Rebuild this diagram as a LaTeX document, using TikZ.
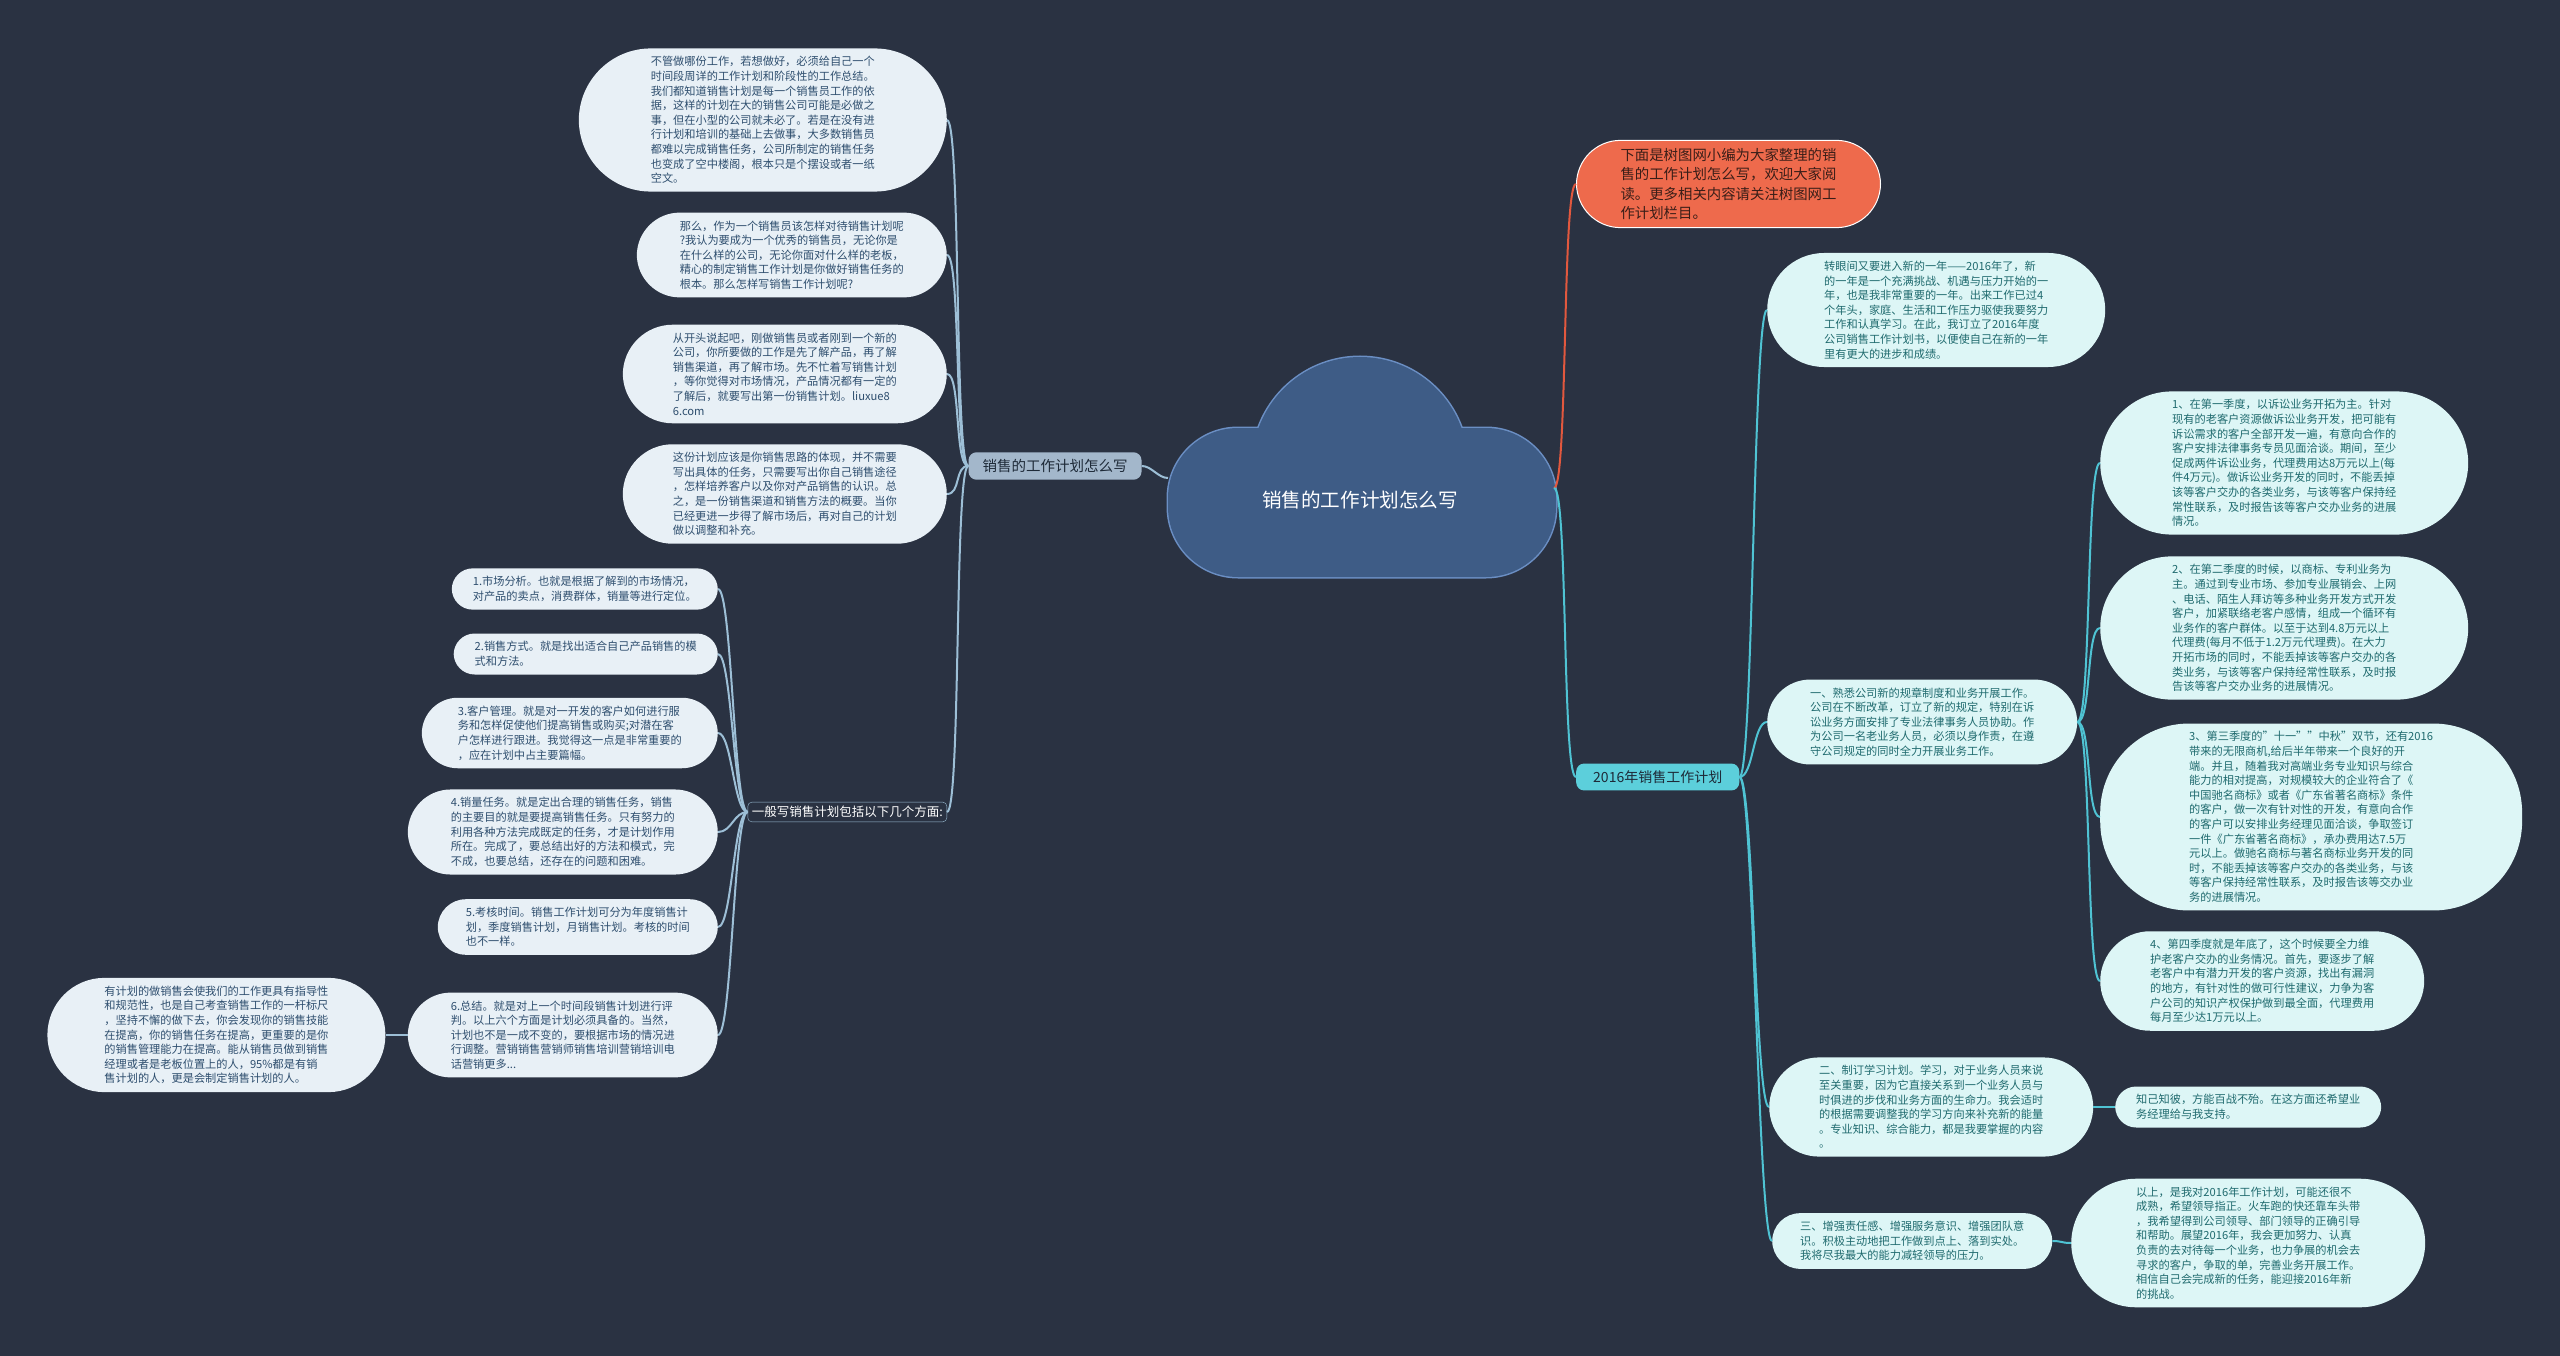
\documentclass[tikz,border=0pt]{standalone}
\usepackage{fontspec}
\setmainfont{Noto Sans CJK SC}
\usepackage{tikz}
\usetikzlibrary{positioning}
\usepackage{xcolor}
\definecolor{bgdark}{HTML}{2A3242}
\definecolor{cloudfill}{HTML}{3E5C86}
\definecolor{cloudline}{HTML}{6B8FC4}
\definecolor{lineL}{HTML}{9DBFD6}
\definecolor{lineR}{HTML}{4FC3D3}
\definecolor{leafLfill}{HTML}{E8F0F6}
\definecolor{leafLtext}{HTML}{2E4E6E}
\definecolor{leafRfill}{HTML}{DDF6F6}
\definecolor{leafRtext}{HTML}{1F6A6E}
\definecolor{branchfill}{HTML}{A3B7CB}
\definecolor{branchtext}{HTML}{1E2A38}
\definecolor{yearfill}{HTML}{5CCFDB}
\definecolor{orangefill}{HTML}{EE6A4C}
\definecolor{orangeline}{HTML}{E2583E}
\definecolor{orangetext}{HTML}{3A1E18}

\begin{document}
\begin{tikzpicture}[x=1pt,y=-1pt,
  leafL/.style={rectangle,rounded corners=#1,inner xsep=#1,inner ysep=8pt,fill=leafLfill,text=leafLtext,align=left,font=\fontsize{11.2}{14.6}\selectfont},
  leafR/.style={leafL=#1,fill=leafRfill,text=leafRtext},
  linkL/.style={draw=lineL,line width=2pt},
  linkR/.style={draw=lineR,line width=2pt}]
\fill[bgdark] (0,0) rectangle (2560,1356);
% cloud in the middle
\path[draw=cloudline,line width=3pt,rounded corners=70pt] (1168,428) rectangle (1556,577);
\draw[cloudline,line width=3pt] (1360,465) circle[radius=108] (1500,500) circle[radius=56];
\fill[cloudfill,rounded corners=70pt] (1168,428) rectangle (1556,577);
\fill[cloudfill] (1360,465) circle[radius=108] (1500,500) circle[radius=56];
\node[font=\fontsize{19.6}{24}\selectfont,text=white] (cloud) at (1360,500) {销售的工作计划怎么写};
\coordinate (cloudL) at (1168,478);
\coordinate (cloudR) at (1554,488);

% left branch
\node[rectangle,rounded corners=8pt,fill=branchfill,text=branchtext,font=\fontsize{14.5}{17}\selectfont,inner xsep=14pt,inner ysep=7pt] (branchL) at (1055,466) {销售的工作计划怎么写};
\node[leafL=72pt,anchor=east] (L1) at (947,120) {不管做哪份工作，若想做好，必须给自己一个\\时间段周详的工作计划和阶段性的工作总结。\\我们都知道销售计划是每一个销售员工作的依\\据，这样的计划在大的销售公司可能是必做之\\事，但在小型的公司就未必了。若是在没有进\\行计划和培训的基础上去做事，大多数销售员\\都难以完成销售任务，公司所制定的销售任务\\也变成了空中楼阁，根本只是个摆设或者一纸\\空文。};
\node[leafL=43pt,anchor=east] (L2) at (947,255) {那么，作为一个销售员该怎样对待销售计划呢\\?我认为要成为一个优秀的销售员，无论你是\\在什么样的公司，无论你面对什么样的老板，\\精心的制定销售工作计划是你做好销售任务的\\根本。那么怎样写销售工作计划呢?};
\node[leafL=50pt,anchor=east] (L3) at (947,374) {从开头说起吧，刚做销售员或者刚到一个新的\\公司，你所要做的工作是先了解产品，再了解\\销售渠道，再了解市场。先不忙着写销售计划\\，等你觉得对市场情况，产品情况都有一定的\\了解后，就要写出第一份销售计划。liuxue8\\6.com};
\node[leafL=50pt,anchor=east] (L4) at (947,494) {这份计划应该是你销售思路的体现，并不需要\\写出具体的任务，只需要写出你自己销售途径\\，怎样培养客户以及你对产品销售的认识。总\\之，是一份销售渠道和销售方法的概要。当你\\已经更进一步得了解市场后，再对自己的计划\\做以调整和补充。};
\node[rectangle,rounded corners=4pt,draw=lineL,text=white,font=\fontsize{12.5}{15}\selectfont,inner sep=4pt,anchor=east] (plan) at (947,812) {一般写销售计划包括以下几个方面:};
\node[leafL=21pt,anchor=east] (S1) at (718,589) {1.市场分析。也就是根据了解到的市场情况，\\对产品的卖点，消费群体，销量等进行定位。};
\node[leafL=21pt,anchor=east] (S2) at (718,654) {2.销售方式。就是找出适合自己产品销售的模\\式和方法。};
\node[leafL=36pt,anchor=east] (S3) at (718,733) {3.客户管理。就是对一开发的客户如何进行服\\务和怎样促使他们提高销售或购买;对潜在客\\户怎样进行跟进。我觉得这一点是非常重要的\\，应在计划中占主要篇幅。};
\node[leafL=43pt,anchor=east] (S4) at (718,832) {4.销量任务。就是定出合理的销售任务，销售\\的主要目的就是要提高销售任务。只有努力的\\利用各种方法完成既定的任务，才是计划作用\\所在。完成了，要总结出好的方法和模式，完\\不成，也要总结，还存在的问题和困难。};
\node[leafL=28pt,anchor=east] (S5) at (718,927) {5.考核时间。销售工作计划可分为年度销售计\\划，季度销售计划，月销售计划。考核的时间\\也不一样。};
\node[leafL=43pt,anchor=east] (S6) at (718,1035) {6.总结。就是对上一个时间段销售计划进行评\\判。以上六个方面是计划必须具备的。当然，\\计划也不是一成不变的，要根据市场的情况进\\行调整。营销销售营销师销售培训营销培训电\\话营销更多...};
\node[leafL=57pt,left=22pt of S6] (gain) {有计划的做销售会使我们的工作更具有指导性\\和规范性，也是自己考查销售工作的一杆标尺\\，坚持不懈的做下去，你会发现你的销售技能\\在提高，你的销售任务在提高，更重要的是你\\的销售管理能力在提高。能从销售员做到销售\\经理或者是老板位置上的人，95\%都是有销\\售计划的人，更是会制定销售计划的人。};

% right branches
\node[rectangle,rounded corners=44pt,inner xsep=44pt,inner ysep=8pt,fill=orangefill,draw=white,line width=1pt,text=orangetext,align=left,font=\fontsize{14.4}{19.3}\selectfont,anchor=west] (note) at (1576,184) {下面是树图网小编为大家整理的销\\售的工作计划怎么写，欢迎大家阅\\读。更多相关内容请关注树图网工\\作计划栏目。};
\node[rectangle,rounded corners=8pt,fill=yearfill,text=branchtext,font=\fontsize{14}{17}\selectfont,inner xsep=17pt,inner ysep=7pt,anchor=west] (year) at (1576,777) {2016年销售工作计划};
\node[leafR=57pt,anchor=west] (intro) at (1767,310) {转眼间又要进入新的一年——2016年了，新\\的一年是一个充满挑战、机遇与压力开始的一\\年，也是我非常重要的一年。出来工作已过4\\个年头，家庭、生活和工作压力驱使我要努力\\工作和认真学习。在此，我订立了2016年度\\公司销售工作计划书，以便使自己在新的一年\\里有更大的进步和成绩。};
\node[leafR=43pt,anchor=west] (item1) at (1767,722) {一、熟悉公司新的规章制度和业务开展工作。\\公司在不断改革，订立了新的规定，特别在诉\\讼业务方面安排了专业法律事务人员协助。作\\为公司一名老业务人员，必须以身作责，在遵\\守公司规定的同时全力开展业务工作。};
\node[leafR=72pt,anchor=west] (q1) at (2100,463) {1、在第一季度，以诉讼业务开拓为主。针对\\现有的老客户资源做诉讼业务开发，把可能有\\诉讼需求的客户全部开发一遍，有意向合作的\\客户安排法律事务专员见面洽谈。期间，至少\\促成两件诉讼业务，代理费用达8万元以上(每\\件4万元)。做诉讼业务开发的同时，不能丢掉\\该等客户交办的各类业务，与该等客户保持经\\常性联系，及时报告该等客户交办业务的进展\\情况。};
\node[leafR=72pt,anchor=west] (q2) at (2100,628) {2、在第二季度的时候，以商标、专利业务为\\主。通过到专业市场、参加专业展销会、上网\\、电话、陌生人拜访等多种业务开发方式开发\\客户，加紧联络老客户感情，组成一个循环有\\业务作的客户群体。以至于达到4.8万元以上\\代理费(每月不低于1.2万元代理费)。在大力\\开拓市场的同时，不能丢掉该等客户交办的各\\类业务，与该等客户保持经常性联系，及时报\\告该等客户交办业务的进展情况。};
\node[leafR=89pt,anchor=west] (q3) at (2100,817) {3、第三季度的"十一""中秋"双节，还有2016\\带来的无限商机,给后半年带来一个良好的开\\端。并且，随着我对高端业务专业知识与综合\\能力的相对提高，对规模较大的企业符合了《\\中国驰名商标》或者《广东省著名商标》条件\\的客户，做一次有针对性的开发，有意向合作\\的客户可以安排业务经理见面洽谈，争取签订\\一件《广东省著名商标》，承办费用达7.5万\\元以上。做驰名商标与著名商标业务开发的同\\时，不能丢掉该等客户交办的各类业务，与该\\等客户保持经常性联系，及时报告该等交办业\\务的进展情况。};
\node[leafR=50pt,anchor=west] (q4) at (2100,981) {4、第四季度就是年底了，这个时候要全力维\\护老客户交办的业务情况。首先，要逐步了解\\老客户中有潜力开发的客户资源，找出有漏洞\\的地方，有针对性的做可行性建议，力争为客\\户公司的知识产权保护做到最全面，代理费用\\每月至少达1万元以上。};
\node[leafR=50pt,anchor=west] (item2) at (1769,1107) {二、制订学习计划。学习，对于业务人员来说\\至关重要，因为它直接关系到一个业务人员与\\时俱进的步伐和业务方面的生命力。我会适时\\的根据需要调整我的学习方向来补充新的能量\\。专业知识、综合能力，都是我要掌握的内容\\。};
\node[leafR=21pt,anchor=west] (know) at (2115,1107) {知己知彼，方能百战不殆。在这方面还希望业\\务经理给与我支持。};
\node[leafR=28pt,anchor=west] (item3) at (1772,1241) {三、增强责任感、增强服务意识、增强团队意\\识。积极主动地把工作做到点上、落到实处。\\我将尽我最大的能力减轻领导的压力。};
\node[leafR=65pt,anchor=west] (sum) at (2071,1243) {以上，是我对2016年工作计划，可能还很不\\成熟，希望领导指正。火车跑的快还靠车头带\\，我希望得到公司领导、部门领导的正确引导\\和帮助。展望2016年，我会更加努力、认真\\负责的去对待每一个业务，也力争展的机会去\\寻求的客户，争取的单，完善业务开展工作。\\相信自己会完成新的任务，能迎接2016年新\\的挑战。};

% connectors
\draw[linkL] (cloudL) to[out=180,in=0,distance=10pt] (branchL.east);
\draw[orangeline,line width=2pt] (cloudR) to[out=0,in=180,distance=14pt] (note.west);
\draw[linkR] (cloudR) to[out=0,in=180,distance=14pt] (year.west);
\foreach \c in {L1,L2,L3,L4,plan}
  \draw[linkL] (branchL.west) to[out=180,in=0,distance=14pt] (\c.east);
\foreach \c in {S1,S2,S3,S4,S5,S6}
  \draw[linkL] (plan.west) to[out=180,in=0,distance=14pt] (\c.east);
\draw[linkL] (S6.west) -- (gain.east);
\foreach \c in {intro,item1,item2,item3}
  \draw[linkR] (year.east) to[out=0,in=180,distance=14pt] (\c.west);
\foreach \c in {q1,q2,q3,q4}
  \draw[linkR] (item1.east) to[out=0,in=180,distance=14pt] (\c.west);
\draw[linkR] (item2.east) -- (know.west);
\draw[linkR] (item3.east) to[out=0,in=180,distance=10pt] (sum.west);
\end{tikzpicture}
\end{document}
